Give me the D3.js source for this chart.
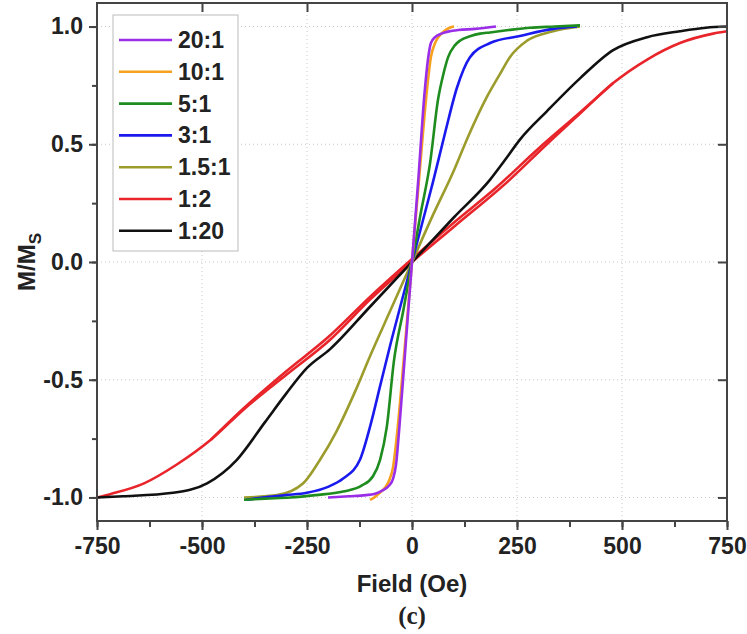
<!DOCTYPE html>
<meta charset="utf-8">
<title>M/Ms loops</title>
<script src="https://d3js.org/d3.v7.min.js"></script>
<style>
  body { margin: 0; background: #fff; }
  text { font-family: "Liberation Sans", Arial, sans-serif; font-weight: bold; fill: #222; }
</style>
<body>
<div id="chart"></div>
<script>
// legend labels, in legend order
var labels = ["20:1", "10:1", "5:1", "3:1", "1.5:1", "1:2", "1:20"];

// field (Oe) and M/Ms, one pair of arrays per sample
var h20 = [-200, -150, -110, -90, -70, -55, -45, -38, -30, -15, 0, 15, 30, 38, 45, 55, 70, 90, 110, 150, 200];
var m20 = [-1.0, -0.995, -0.99, -0.985, -0.97, -0.95, -0.92, -0.86, -0.70, -0.35, 0, 0.35, 0.72, 0.86, 0.93, 0.955, 0.97, 0.98, 0.985, 0.99, 1.0];

var h10 = [-100, -90, -80, -65, -55, -45, -35, -20, 0, 20, 35, 45, 55, 65, 80, 90, 100];
var m10 = [-1.01, -1.0, -0.985, -0.96, -0.93, -0.87, -0.72, -0.42, 0, 0.42, 0.72, 0.87, 0.93, 0.96, 0.985, 0.995, 1.0];

var h5 = [-400, -350, -290, -230, -164, -120, -93, -76, -60, -43, -20, 0, 20, 43, 62, 75, 86, 102, 114, 140, 162, 186, 230, 281, 340, 400];
var m5 = [-1.01, -1.005, -1.0, -0.99, -0.975, -0.95, -0.91, -0.84, -0.70, -0.42, -0.2, 0, 0.2, 0.42, 0.69, 0.80, 0.87, 0.92, 0.94, 0.96, 0.97, 0.975, 0.985, 0.995, 1.0, 1.005];

var h3 = [-395, -355, -300, -250, -200, -164, -124, -100, -75, -50, -25, 0, 25, 50, 79, 107, 138, 186, 257, 336, 393];
var m3 = [-1.01, -1.0, -0.99, -0.98, -0.955, -0.92, -0.84, -0.70, -0.52, -0.34, -0.17, 0, 0.17, 0.34, 0.55, 0.74, 0.87, 0.93, 0.96, 0.99, 1.0];

var h15 = [-400, -321, -259, -219, -180, -133, -100, -50, 0, 50, 100, 133, 178, 210, 233, 274, 336, 400];
var m15 = [-1.0, -0.99, -0.94, -0.84, -0.72, -0.54, -0.40, -0.2, 0, 0.2, 0.39, 0.53, 0.70, 0.80, 0.87, 0.94, 0.98, 1.0];

// 1:2 has a narrow open loop: main branch plus the return strand near the origin
var h12 = [-750, -717, -638, -560, -479, -400, -300, -195, -100, 0, 100, 233, 321, 400, 479, 560, 638, 717, 750];
var m12 = [-1.0, -0.985, -0.94, -0.86, -0.755, -0.625, -0.48, -0.33, -0.16, 0, 0.15, 0.35, 0.50, 0.63, 0.76, 0.86, 0.93, 0.97, 0.98];
var h12b = [-479, -400, -300, -200, -100, 0, 100, 200, 300, 400, 479];
var m12b = [-0.755, -0.62, -0.465, -0.32, -0.148, 0.013, 0.168, 0.315, 0.48, 0.635, 0.76];

var h120 = [-750, -688, -569, -488, -417, -350, -300, -250, -195, -100, 0, 100, 186, 220, 257, 321, 400, 479, 560, 638, 700, 750];
var m120 = [-1.0, -0.995, -0.98, -0.94, -0.84, -0.68, -0.56, -0.45, -0.37, -0.19, 0, 0.19, 0.35, 0.43, 0.52, 0.64, 0.78, 0.90, 0.955, 0.98, 0.995, 1.0];

var xTicks = [-750, -500, -250, 0, 250, 500, 750];
var yTicks = [-1.0, -0.5, 0.0, 0.5, 1.0];

var colors = ["#9a2ee8", "#f7a01e", "#1e8c1e", "#1a1aee", "#9c9c2c", "#e8252a", "#111111"];
var fields = [h20, h10, h5, h3, h15, h12, h120];
var moments = [m20, m10, m5, m3, m15, m12, m120];

var W = 747, H = 634;
var margin = {top: 3, right: 20, bottom: 113, left: 97},
    width = W - margin.left - margin.right,
    height = H - margin.top - margin.bottom;

var svg = d3.select("#chart").append("svg")
    .attr("width", W).attr("height", H)
  .append("g")
    .attr("transform", "translate(" + margin.left + "," + margin.top + ")");

var x = d3.scaleLinear().domain([-750, 750]).range([0, width]);
var y = d3.scaleLinear().domain([-1.1, 1.1]).range([height, 0]);

// dotted grid
svg.append("g").selectAll("line").data(xTicks.slice(1, -1)).enter().append("line")
    .attr("x1", d => x(d)).attr("x2", d => x(d))
    .attr("y1", 0).attr("y2", height)
    .attr("stroke", "#c8c8c8").attr("stroke-dasharray", "1,3");
svg.append("g").selectAll("line").data(yTicks).enter().append("line")
    .attr("y1", d => y(d)).attr("y2", d => y(d))
    .attr("x1", 0).attr("x2", width)
    .attr("stroke", "#c8c8c8").attr("stroke-dasharray", "1,3");

// curves, back to front
var line = d3.line()
    .x(d => x(d[0])).y(d => y(d[1]))
    .curve(d3.curveMonotoneX);

function drawCurve(hs, ms, color) {
  svg.append("path").datum(hs.map((h, k) => [h, ms[k]]))
    .attr("d", line)
    .attr("fill", "none")
    .attr("stroke", color)
    .attr("stroke-width", 2.6)
    .attr("stroke-linejoin", "round");
}
drawCurve(h12b, m12b, colors[5]);
var order = [5, 6, 4, 3, 2, 1, 0];
order.forEach(function(i) {
  drawCurve(fields[i], moments[i], colors[i]);
});

// axes
var minorX = d3.range(-750, 751, 125);
var minorY = d3.range(-1.0, 1.01, 0.25);

var axBottomMinor = svg.append("g").attr("transform", "translate(0," + height + ")")
    .call(d3.axisBottom(x).tickValues(minorX).tickSize(6).tickFormat(""));
var axBottom = svg.append("g").attr("transform", "translate(0," + height + ")")
    .call(d3.axisBottom(x).tickValues(xTicks).tickSize(9).tickPadding(8).tickFormat(d => String(d)));

var axLeftMinor = svg.append("g")
    .call(d3.axisLeft(y).tickValues(minorY).tickSize(5).tickFormat(""));
var axLeft = svg.append("g")
    .call(d3.axisLeft(y).tickValues(yTicks).tickSize(8).tickPadding(6).tickFormat(d => d.toFixed(1)));

var axTop = svg.append("g")
    .call(d3.axisBottom(x).tickValues(xTicks.slice(1, -1)).tickSize(9).tickFormat(""));
var axRight = svg.append("g").attr("transform", "translate(" + width + ",0)")
    .call(d3.axisLeft(y).tickValues(yTicks).tickSize(9).tickFormat(""));

[axBottomMinor, axBottom, axLeftMinor, axLeft, axTop, axRight].forEach(function(g) {
  g.selectAll(".domain").remove();
  g.selectAll("line").attr("stroke", "#444").attr("stroke-width", 2);
  g.selectAll("text").style("font-size", "23px").attr("fill", "#222");
});

// frame
svg.append("rect")
    .attr("width", width).attr("height", height)
    .attr("fill", "none").attr("stroke", "#444").attr("stroke-width", 2);

// axis titles
svg.append("text")
    .attr("x", width / 2).attr("y", height + 71)
    .attr("text-anchor", "middle").style("font-size", "24px")
    .text("Field (Oe)");

var yt = svg.append("text")
    .attr("transform", "translate(" + (-62) + "," + (height / 2) + ") rotate(-90)")
    .attr("text-anchor", "middle").style("font-size", "24px");
yt.append("tspan").text("M/M");
yt.append("tspan").style("font-size", "17px").attr("dy", 6).text("S");

svg.append("text")
    .attr("x", width / 2).attr("y", height + 103)
    .attr("text-anchor", "middle")
    .style("font-family", "'Liberation Serif', 'Times New Roman', serif")
    .style("font-size", "25px")
    .text("(c)");

// legend
var lg = svg.append("g").attr("transform", "translate(16,12)");
lg.append("rect")
    .attr("width", 125).attr("height", 236)
    .attr("fill", "#fff").attr("stroke", "#bbb").attr("stroke-width", 1);
labels.forEach(function(lab, i) {
  var yy = 25 + i * 31.8;
  lg.append("line")
    .attr("x1", 6).attr("x2", 59).attr("y1", yy).attr("y2", yy)
    .attr("stroke", colors[i]).attr("stroke-width", 2.6);
  lg.append("text")
    .attr("x", 65).attr("y", yy + 8)
    .style("font-size", "23px")
    .text(lab);
});
</script>
</body>
